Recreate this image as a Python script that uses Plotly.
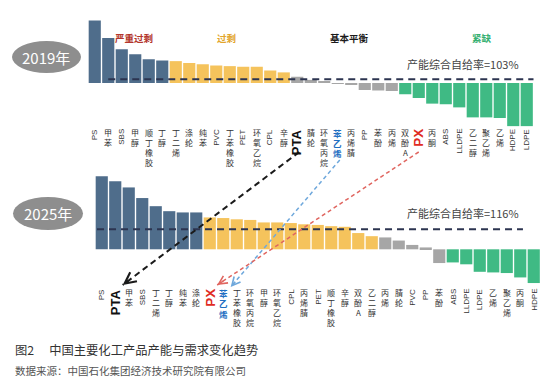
import plotly.graph_objects as go

# ---------------- data ----------------
cats_2019 = ["PS", "甲苯", "SBS", "甲醇", "顺丁橡胶", "丁醇", "丁二烯", "涤纶", "纯苯", "PVC",
             "丁苯橡胶", "PET", "环氧乙烷", "CPL", "辛醇", "PTA", "腈纶", "环氧丙烷", "苯乙烯", "丙烯腈",
             "PP", "苯酚", "丙烯", "双酚A", "PX", "丙酮", "ABS", "LLDPE", "乙二醇", "聚乙烯",
             "乙烯", "HDPE", "LDPE"]
rate_2019 = [150, 136, 127, 123, 119, 118, 117.5, 116, 115, 114,
             113.5, 113, 113, 110, 108.5, 105, 102.5, 101.5, 99.5, 98.4,
             94.4, 94, 93.6, 91, 88, 83.5, 83, 80.5, 72.5, 72.5,
             72, 65.5, 65.5]
group_2019 = ["严重过剩"] * 6 + ["过剩"] * 9 + ["基本平衡"] * 8 + ["紧缺"] * 10
overall_2019 = 103

cats_2025 = ["PS", "PTA", "甲苯", "SBS", "丁二烯", "丁醇", "纯苯", "涤纶", "PX", "苯乙烯",
             "丁苯橡胶", "环氧丙烷", "甲醇", "环氧乙烷", "CPL", "丙烯腈", "PET", "顺丁橡胶", "辛醇", "双酚A",
             "乙二醇", "丙烯", "腈纶", "PVC", "PP", "苯酚", "ABS", "LLDPE", "LDPE", "乙烯",
             "聚乙烯", "丙酮", "HDPE"]
rate_2025 = [158.5, 154.5, 149.5, 141, 134.5, 130.5, 129.5, 129.5, 125.5, 125,
             124, 123.5, 121.5, 121.5, 121, 120, 119.5, 118.5, 118, 113,
             110.5, 109.5, 107, 103.5, 101.5, 89, 89.5, 88, 82, 81.5,
             81, 77.5, 73]
group_2025 = ["严重过剩"] * 8 + ["过剩"] * 13 + ["基本平衡"] * 5 + ["紧缺"] * 7
overall_2025 = 116

group_names = ["严重过剩", "过剩", "基本平衡", "紧缺"]
highlight = ["PTA", "苯乙烯", "PX"]

# ---------------- layout constants ----------------
W, H = 556, 390
UNIT = 13.5          # px per category slot
X0 = 94.75           # px of first 2019 bar centre
OFF25 = 7 / UNIT     # 2025 row shift (in slots)
PPCT = 1.25          # px per percentage point
FONT = "Noto Sans CJK SC, Liberation Sans, Arial"
LAT = "Liberation Sans, Arial, Noto Sans CJK SC"

colors = {"严重过剩": "#4f6d8b", "过剩": "#f5c35c", "基本平衡": "#a6a6a6", "紧缺": "#3fba84"}
head_colors = {"严重过剩": "#b3362c", "过剩": "#e2a52c", "基本平衡": "#1a1a1a", "紧缺": "#36b071"}
head_px = {"严重过剩": 134, "过剩": 226, "基本平衡": 349, "紧缺": 482}
special = {"PTA": dict(size=13, color="#111111", bold=True, pitch=10),
           "PX": dict(size=13.5, color="#e02b22", bold=True, pitch=10),
           "苯乙烯": dict(size=8.5, color="#1f6fc2", bold=True, pitch=10.2)}


def py(p):
    return 1 - p / H


def xpx(x):
    return X0 + UNIT * x


x19 = list(range(len(cats_2019)))
x25 = [i + OFF25 for i in range(len(cats_2025))]

fig = go.Figure()
fig.add_trace(go.Bar(x=x19, y=[r - 100 for r in rate_2019], base=100, width=0.9,
                     marker=dict(color=[colors[g] for g in group_2019], line=dict(width=0)),
                     xaxis="x", yaxis="y", hoverinfo="skip"))
fig.add_trace(go.Bar(x=x25, y=[r - 100 for r in rate_2025], base=100, width=0.9,
                     marker=dict(color=[colors[g] for g in group_2025], line=dict(width=0)),
                     xaxis="x", yaxis="y2", hoverinfo="skip"))
# overall self-sufficiency dashed lines
fig.add_trace(go.Scatter(x=[1, 32.5], y=[overall_2019] * 2, mode="lines",
                         line=dict(color="#2c3450", width=2, dash="7px,5px"),
                         xaxis="x", yaxis="y", hoverinfo="skip"))
fig.add_trace(go.Scatter(x=[-0.35 + OFF25, 31.2 + OFF25], y=[overall_2025] * 2, mode="lines",
                         line=dict(color="#2c3450", width=2, dash="7px,5px"),
                         xaxis="x", yaxis="y2", hoverinfo="skip"))

ann = []
shapes = []


def add_labels(cats, xs, top):
    for c, x in zip(cats, xs):
        st = special.get(c, {})
        size = st.get("size", 8)
        color = st.get("color", "#333333")
        bold = st.get("bold", False)
        pitch = st.get("pitch", 9.8)
        if c.isascii():
            text = f"<b>{c}</b>" if bold else c
            ann.append(dict(x=x, y=py(top), xref="x", yref="paper", text=text, textangle=-90,
                            showarrow=False, xanchor="center", yanchor="top", borderpad=0,
                            font=dict(size=size, color=color, family=LAT)))
        else:
            for j, ch in enumerate(c):
                t = f"<b>{ch}</b>" if bold else ch
                ann.append(dict(x=x, y=py(top + pitch * (j + 0.5)), xref="x", yref="paper", text=t,
                                showarrow=False, xanchor="center", yanchor="middle", borderpad=0,
                                font=dict(size=size, color=color, family=FONT)))


add_labels(cats_2019, x19, 128)
add_labels(cats_2025, x25, 288)

# group headers
for g in group_names:
    ann.append(dict(x=head_px[g] / W, y=py(37.5), xref="paper", yref="paper",
                    text=f"<b>{g}</b>", showarrow=False, xanchor="center", yanchor="middle",
                    font=dict(size=9.5, color=head_colors[g], family=FONT)))

# overall rate texts
ann.append(dict(x=462.5 / W, y=py(64), xref="paper", yref="paper", xanchor="center", yanchor="middle",
                text=f"产能综合自给率={overall_2019}%", showarrow=False,
                font=dict(size=11, color="#444444", family=FONT)))
ann.append(dict(x=462.5 / W, y=py(213), xref="paper", yref="paper", xanchor="center", yanchor="middle",
                text=f"产能综合自给率={overall_2025}%", showarrow=False,
                font=dict(size=11, color="#444444", family=FONT)))

# year ellipses
for label, (x0, x1, y0, y1) in [("2019年", (12, 81, 41, 73)), ("2025年", (13, 83, 197, 230))]:
    shapes.append(dict(type="circle", xref="paper", yref="paper",
                       x0=x0 / W, x1=x1 / W, y0=py(y1), y1=py(y0),
                       fillcolor="#8e8e8e", line=dict(width=0)))
    ann.append(dict(x=(x0 + x1) / 2 / W, y=py((y0 + y1) / 2), xref="paper", yref="paper",
                    text=label, showarrow=False, xanchor="center", yanchor="middle",
                    font=dict(size=15, color="white", family="Liberation Sans Narrow, " + FONT)))

# dashed arrows linking highlighted products
arrow_style = {"PTA": ("#1a1a1a", 2, "6px,4px", 0.15, 152, 285),
               "苯乙烯": ("#6fa8dc", 1.5, "4px,3px", 0.15, 160, 287),
               "PX": ("#e06660", 1.5, "4px,3px", 0.0, 152, 285)}
for name in highlight:
    col, wdt, dash, dx0, ys, ye = arrow_style[name]
    xs = x19[cats_2019.index(name)] + dx0
    xe = x25[cats_2025.index(name)] + 0.55
    shapes.append(dict(type="line", xref="x", yref="paper", x0=xs, y0=py(ys), x1=xe, y1=py(ye),
                       line=dict(color=col, width=wdt, dash=dash)))
    vx, vy = xpx(xs) - xpx(xe), ys - ye
    n = (vx ** 2 + vy ** 2) ** 0.5
    ann.append(dict(x=xe, y=py(ye), xref="x", yref="paper", text="", showarrow=True,
                    ax=vx / n * 9, ay=vy / n * 9, axref="pixel", ayref="pixel",
                    arrowhead=5, arrowsize=1.1, arrowwidth=wdt, arrowcolor=col, standoff=0))

# caption
ann.append(dict(x=13 / W, y=py(350), xref="paper", yref="paper", xanchor="left", yanchor="middle",
                text="图2　 中国主要化工产品产能与需求变化趋势", showarrow=False,
                font=dict(size=12.3, color="#333333", family=FONT)))
ann.append(dict(x=13 / W, y=py(370), xref="paper", yref="paper", xanchor="left", yanchor="middle",
                text="数据来源：中国石化集团经济技术研究院有限公司", showarrow=False,
                font=dict(size=10.5, color="#555555", family=FONT)))

fig.update_layout(
    width=W, height=H, margin=dict(l=0, r=0, t=0, b=0),
    paper_bgcolor="white", plot_bgcolor="white", showlegend=False, barmode="overlay",
    xaxis=dict(range=[-X0 / UNIT, (W - X0) / UNIT], visible=False, anchor="y2", fixedrange=True),
    yaxis=dict(domain=[py(170), 1], range=[100 - (170 - 83) / PPCT, 100 + 83 / PPCT],
               visible=False, fixedrange=True),
    yaxis2=dict(domain=[py(330), py(170)], range=[100 - (330 - 249.3) / PPCT, 100 + (249.3 - 170) / PPCT],
                visible=False, fixedrange=True),
    annotations=ann, shapes=shapes,
)

fig.write_html("out.html", config={"displayModeBar": False},
               post_script="document.body.style.margin='0';document.body.style.overflow='hidden';")
